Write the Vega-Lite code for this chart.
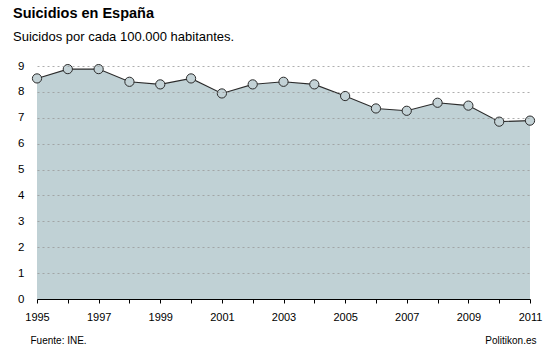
{
  "$schema": "https://vega.github.io/schema/vega-lite/v6.json",
  "width": 493,
  "height": 233,
  "autosize": "none",
  "padding": {"left": 37, "top": 66, "right": 19, "bottom": 55},
  "background": "white",
  "config": {
    "view": {"stroke": null},
    "font": "Liberation Sans"
  },
  "title": {
    "text": "Suicidios en España",
    "subtitle": "Suicidos por cada 100.000 habitantes.",
    "anchor": "start",
    "frame": "group",
    "dx": -24,
    "offset": 15,
    "font": "Liberation Sans",
    "fontSize": 14.5,
    "fontWeight": "bold",
    "color": "#000",
    "subtitleFont": "Liberation Sans",
    "subtitleFontSize": 13,
    "subtitleColor": "#000",
    "subtitlePadding": 10
  },
  "data": {
    "values": [
      {"year": 1995, "rate": 8.52},
      {"year": 1996, "rate": 8.88},
      {"year": 1997, "rate": 8.88},
      {"year": 1998, "rate": 8.39},
      {"year": 1999, "rate": 8.29},
      {"year": 2000, "rate": 8.52},
      {"year": 2001, "rate": 7.94},
      {"year": 2002, "rate": 8.29},
      {"year": 2003, "rate": 8.39},
      {"year": 2004, "rate": 8.29},
      {"year": 2005, "rate": 7.84},
      {"year": 2006, "rate": 7.36},
      {"year": 2007, "rate": 7.27},
      {"year": 2008, "rate": 7.58},
      {"year": 2009, "rate": 7.47},
      {"year": 2010, "rate": 6.85},
      {"year": 2011, "rate": 6.89}
    ]
  },
  "encoding": {
    "x": {
      "field": "year",
      "type": "quantitative",
      "scale": {"domain": [1995, 2011], "nice": false, "zero": false},
      "axis": {
        "values": [1995,1996,1997,1998,1999,2000,2001,2002,2003,2004,2005,2006,2007,2008,2009,2010,2011],
        "format": "d",
        "labelExpr": "datum.value % 2 == 1 ? datum.label : ''",
        "grid": false,
        "domainColor": "#000",
        "domainWidth": 1.2,
        "tickColor": "#000",
        "tickSize": 4,
        "labelFontSize": 11,
        "labelColor": "#000",
        "labelPadding": 8,
        "labelFlush": false,
        "labelOverlap": false,
        "zindex": 2,
        "title": "Fuente: INE.",
        "titleFontSize": 10,
        "titleFontWeight": "normal",
        "titleColor": "#000",
        "titleAlign": "left",
        "titleBaseline": "alphabetic",
        "titleX": -7,
        "titleY": 44
      }
    },
    "y": {
      "field": "rate",
      "type": "quantitative",
      "scale": {"domain": [0, 9], "nice": false},
      "axis": {
        "values": [0,1,2,3,4,5,6,7,8,9],
        "grid": true,
        "gridColor": "#999",
        "gridDash": [2, 3],
        "gridWidth": 0.8,
        "domain": false,
        "ticks": false,
        "labelFontSize": 11.5,
        "labelColor": "#000",
        "labelPadding": 13,
        "zindex": 1,
        "title": "Politikon.es",
        "titleAngle": 0,
        "titleFontSize": 10,
        "titleFontWeight": "normal",
        "titleColor": "#000",
        "titleAlign": "right",
        "titleBaseline": "alphabetic",
        "titleX": 499,
        "titleY": 277
      }
    }
  },
  "layer": [
    {"mark": {"type": "area", "color": "#c0d1d5", "opacity": 1}},
    {"mark": {"type": "line", "color": "#2b2b2b", "strokeWidth": 1.1}},
    {"mark": {"type": "point", "filled": true, "fill": "#c3d2d6", "stroke": "#2b2b2b", "strokeWidth": 1, "size": 85, "opacity": 1}}
  ]
}
